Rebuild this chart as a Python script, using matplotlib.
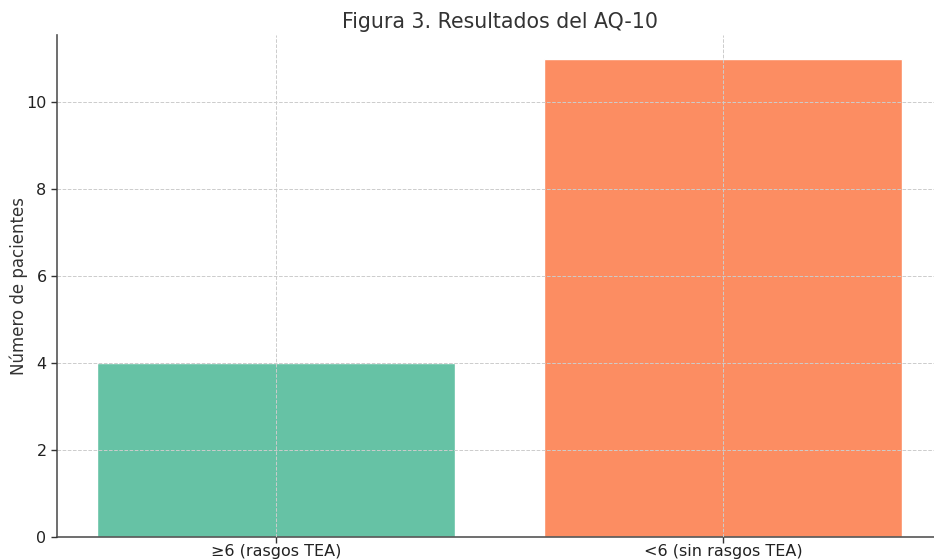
import matplotlib
matplotlib.use("Agg")
import matplotlib.pyplot as plt

categories = ["≥6 (rasgos TEA)", "<6 (sin rasgos TEA)"]
values = [4, 11]
colors = ["#66c2a5", "#fc8d62"]

plt.rcParams['font.family'] = ['DejaVu Sans']
fig = plt.figure(figsize=(9.34, 5.6), dpi=100)
ax = fig.add_axes([57/934, 23/560, (942-57)/934, 502/560])
ax.bar(categories, values, color=colors, edgecolor="white", linewidth=1, width=0.8)
ax.set_ylim(0, 11.55)
ax.set_xlim(-0.49, 1.49)
ax.set_title("Figura 3. Resultados del AQ-10", fontsize=14.8, color="#333333", pad=5)
ax.set_ylabel("Número de pacientes", fontsize=12, color="#333333", labelpad=-1)
ax.grid(True, linestyle="--", color="#cccccc", linewidth=0.7)
ax.set_axisbelow(False)
for s in ["top", "right"]:
    ax.spines[s].set_visible(False)
for s in ["left", "bottom"]:
    ax.spines[s].set_color("#555555")
    ax.spines[s].set_linewidth(1.2)
ax.tick_params(colors="#333333", labelsize=11.5, length=4, width=1, labelcolor="#222222")
ax.tick_params(axis="x", pad=1)
fig.savefig("out.png", dpi=100)
